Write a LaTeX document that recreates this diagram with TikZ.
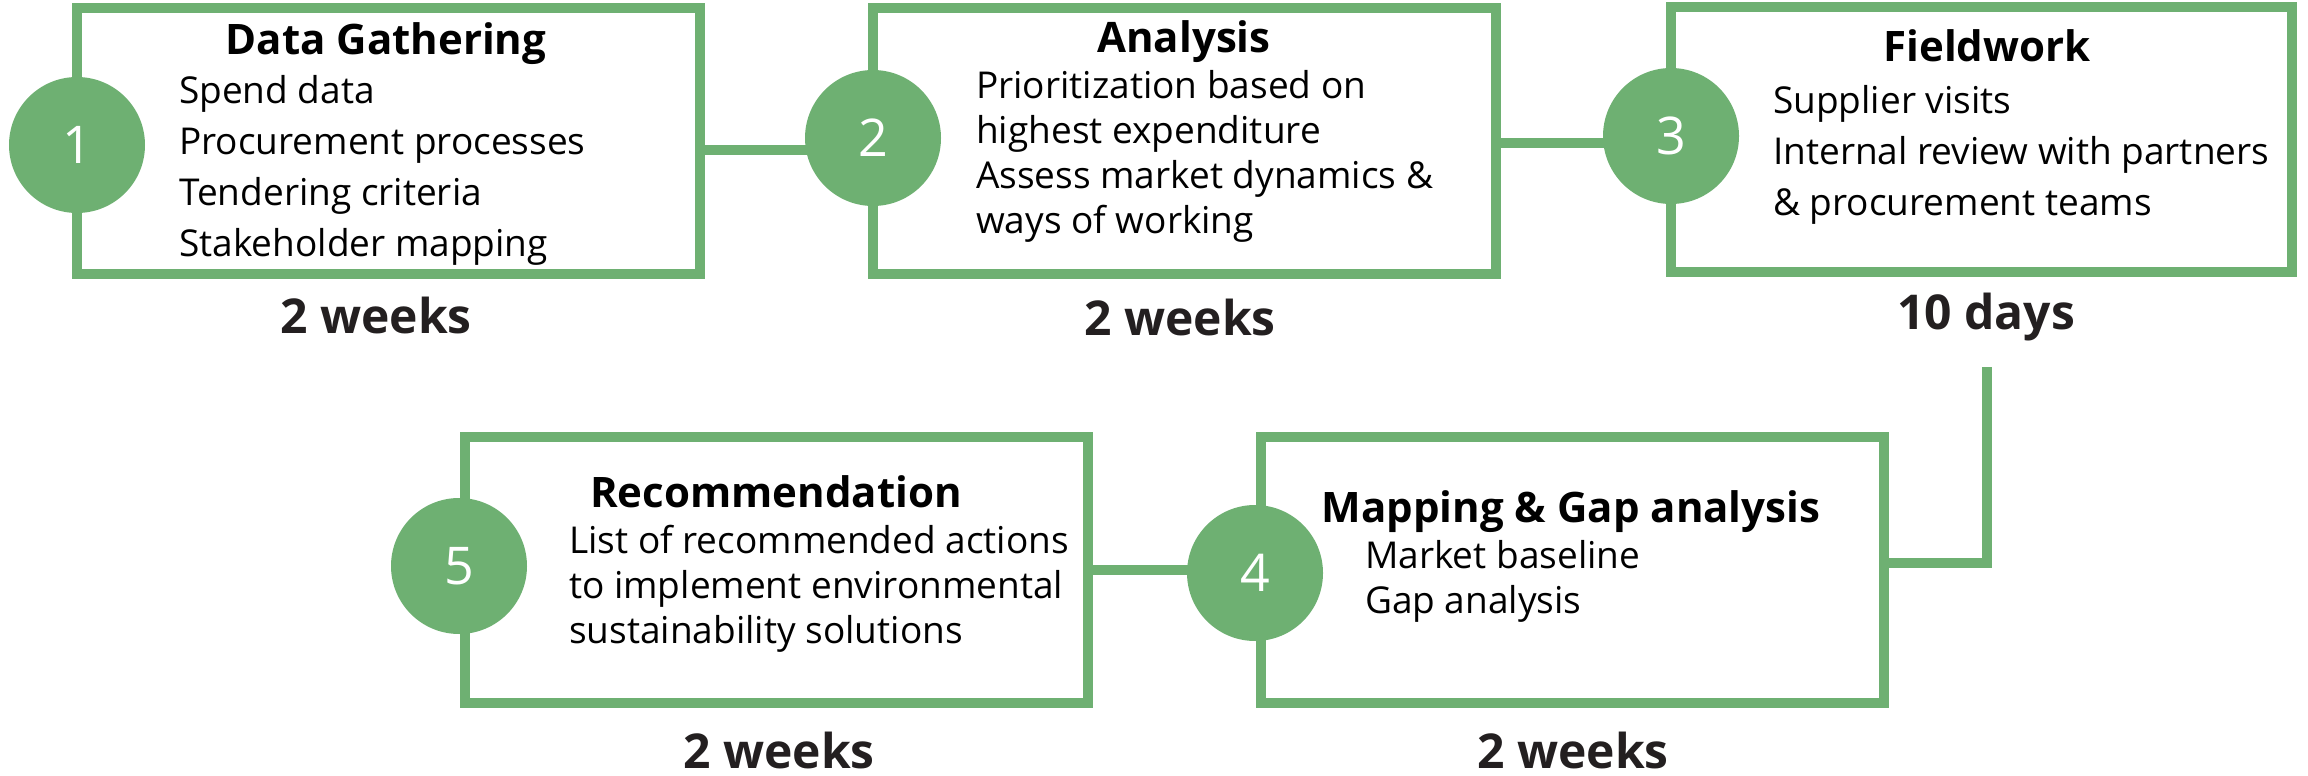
\documentclass[tikz,border=0pt]{standalone}
\usepackage{fontspec}
\setmainfont{Open Sans}
\usetikzlibrary{backgrounds}
\definecolor{grn}{RGB}{110,176,114}
\definecolor{dark}{RGB}{35,31,32}
\begin{document}
\begin{tikzpicture}[x=1pt,y=-1pt,
 stepbox/.style={draw=grn, line width=10pt, minimum width=623pt, minimum height=266pt, inner sep=0pt},
 num/.style={circle, fill=grn, minimum size=136pt, inner sep=0pt, text=white, font=\fontsize{52}{60}\selectfont},
 ttl/.style={anchor=base, inner sep=0pt, font=\fontsize{42}{50}\selectfont\bfseries},
 body/.style={anchor=base west, inner sep=0pt, font=\fontsize{37}{45}\selectfont},
 dur/.style={anchor=base, inner sep=0pt, text=dark, font=\fontsize{48}{56}\selectfont\bfseries},
 conn/.style={draw=grn, line width=10pt, line join=miter}]
\useasboundingbox (0,0) rectangle (2308,776);
% boxes
\node[stepbox] (b1) at (388.5,141) {};
\node[stepbox] (b2) at (1184.5,141) {};
\node[stepbox, minimum width=621pt, minimum height=265pt] (b3) at (1981.5,139.5) {};
\node[stepbox] (b4) at (1572.5,570) {};
\node[stepbox] (b5) at (776.5,570) {};
% circles
\node[num] (c1) at (77,145) {1};
\node[num] (c2) at (873,138) {2};
\node[num] (c3) at (1671,136) {3};
\node[num] (c4) at (1255,573) {4};
\node[num] (c5) at (459,566) {5};
% connectors
\coordinate (y12) at (0,150);
\coordinate (y23) at (0,143);
\coordinate (t3) at (1987,367);
\coordinate (k34) at (1987,563);
\begin{pgfonlayer}{background}
\draw[conn] (b1.east |- y12) -- (c2 |- y12);
\draw[conn] (b2.east |- y23) -- (c3 |- y23);
\draw[conn] (t3) -- (k34) -- (b4.east |- k34);
\draw[conn] (b5.east) -- (c4 |- b5.east);
\end{pgfonlayer}
% titles
\node[ttl] (t1) at (386,55) {Data Gathering};
\node[ttl] (t2) at (1184,53) {Analysis};
\node[ttl] (t3t) at (1987,62) {Fieldwork};
\node[ttl] (t4) at (1571,522) {Mapping \& Gap analysis};
\node[ttl] (t5) at (776,507) {Recommendation};
% bodies
\foreach \t [count=\i] in {Spend data, Procurement processes, Tendering criteria, Stakeholder mapping}
  \node[body] (a1l\i) at (179,{103+51*(\i-1)}) {\t};
\foreach \t [count=\i] in {Prioritization based on, highest expenditure, Assess market dynamics \&, ways of working}
  \node[body] (a2l\i) at (976,{98+45*(\i-1)}) {\t};
\foreach \t [count=\i] in {Supplier visits, Internal review with partners, \& procurement teams}
  \node[body] (a3l\i) at (1773,{113+51*(\i-1)}) {\t};
\foreach \t [count=\i] in {Market baseline, Gap analysis}
  \node[body] (a4l\i) at (1365,{568+45*(\i-1)}) {\t};
\foreach \t [count=\i] in {List of recommended actions, to implement environmental, sustainability solutions}
  \node[body] (a5l\i) at (569,{553+45*(\i-1)}) {\t};
% durations
\node[dur] (d1) at (376,333) {2 weeks};
\node[dur] (d2) at (1180,335) {2 weeks};
\node[dur] (d3) at (1986,329) {10 days};
\node[dur] (d4) at (1573,768) {2 weeks};
\node[dur] (d5) at (779,768) {2 weeks};
\end{tikzpicture}
\end{document}
